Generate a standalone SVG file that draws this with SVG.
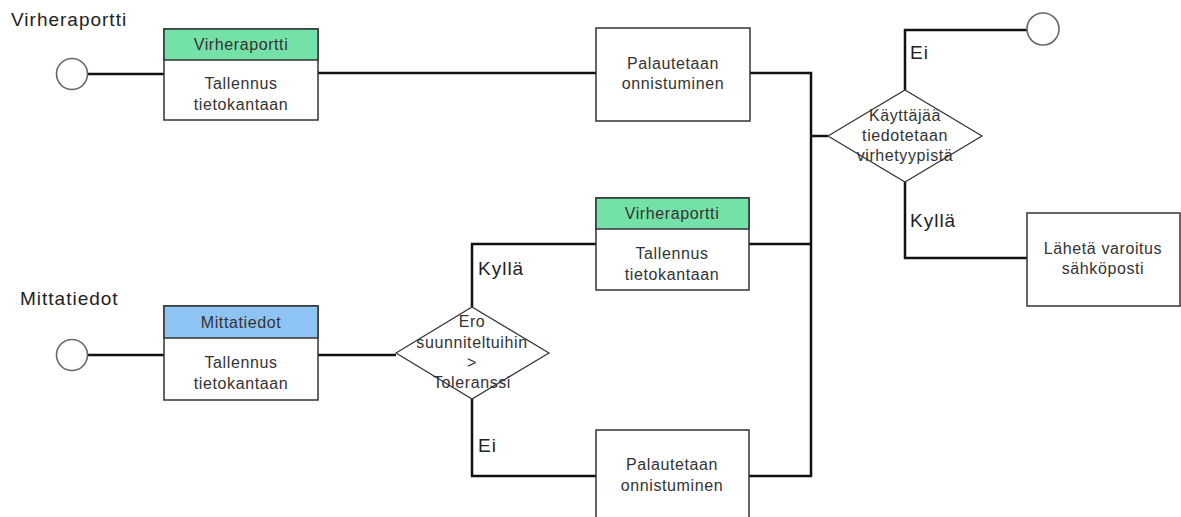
<svg xmlns="http://www.w3.org/2000/svg" width="1181" height="517" viewBox="0 0 1181 517">
<style>
  .wire { fill: none; stroke: #111; stroke-width: 2.5; stroke-linejoin: miter; }
  .box { fill: #fff; stroke: #333; stroke-width: 1.5; }
  .hdr-g { fill: #74E2A8; stroke: #333; stroke-width: 1.5; }
  .hdr-b { fill: #8EC4F4; stroke: #333; stroke-width: 1.5; }
  .dia { fill: #fff; stroke: #333; stroke-width: 1.2; }
  .term { fill: #fff; stroke: #666; stroke-width: 1.6; }
  .t { font-family: "Liberation Sans", Arial, sans-serif; font-size: 16px; letter-spacing: 0.6px; fill: #333; text-anchor: middle; }
  .lbl { font-family: "Liberation Sans", Arial, sans-serif; font-size: 19px; letter-spacing: 1px; fill: #222; }
</style>
<rect width="1181" height="517" fill="#fff"/>

<g id="connectors">
  <polyline class="wire" points="87,74 164,74"/>
  <polyline class="wire" points="318,73 596,73"/>
  <polyline class="wire" points="750,73 811,73 811,476 749,476"/>
  <polyline class="wire" points="749,244 811,244"/>
  <polyline class="wire" points="811,136 828,136"/>
  <polyline class="wire" points="905,90 905,30 1027,30"/>
  <polyline class="wire" points="905,182 905,258 1027,258"/>
  <polyline class="wire" points="87,355 164,355"/>
  <polyline class="wire" points="318,355 396,355"/>
  <polyline class="wire" points="472,307 472,244 596,244"/>
  <polyline class="wire" points="472,399 472,476 596,476"/>
</g>

<g id="label-virheraportti"><text class="lbl" x="11" y="26">Virheraportti</text></g>
<g id="label-mittatiedot"><text class="lbl" x="20" y="305">Mittatiedot</text></g>
<g id="label-ei-top"><text class="lbl" x="910" y="59">Ei</text></g>
<g id="label-kylla-right"><text class="lbl" x="910" y="227">Kyllä</text></g>
<g id="label-kylla-left"><text class="lbl" x="478" y="275">Kyllä</text></g>
<g id="label-ei-bottom"><text class="lbl" x="478" y="452">Ei</text></g>

<g id="start-virheraportti"><circle class="term" cx="72" cy="74" r="15.5"/></g>
<g id="start-mittatiedot"><circle class="term" cx="72" cy="355" r="15.5"/></g>
<g id="end-ei"><circle class="term" cx="1043" cy="29" r="16"/></g>

<g id="store-virheraportti-1">
  <rect class="box" x="164" y="29" width="154" height="91"/>
  <rect class="hdr-g" x="164" y="29" width="154" height="31"/>
  <text class="t" x="241" y="50">Virheraportti</text>
  <text class="t" x="241" y="89">Tallennus</text>
  <text class="t" x="241" y="110">tietokantaan</text>
</g>

<g id="return-success-1">
  <rect class="box" x="596" y="28" width="154" height="93"/>
  <text class="t" x="673" y="69">Palautetaan</text>
  <text class="t" x="673" y="89">onnistuminen</text>
</g>

<g id="decision-notify">
  <polygon class="dia" points="828,136 905,90 982,136 905,182"/>
  <text class="t" x="905" y="121">Käyttäjää</text>
  <text class="t" x="905" y="141">tiedotetaan</text>
  <text class="t" x="905" y="161">virhetyypistä</text>
</g>

<g id="send-email">
  <rect class="box" x="1027" y="213" width="153" height="93"/>
  <text class="t" x="1103" y="254">Lähetä varoitus</text>
  <text class="t" x="1103" y="274">sähköposti</text>
</g>

<g id="store-mittatiedot">
  <rect class="box" x="164" y="306" width="154" height="94"/>
  <rect class="hdr-b" x="164" y="306" width="154" height="32"/>
  <text class="t" x="241" y="328">Mittatiedot</text>
  <text class="t" x="241" y="368">Tallennus</text>
  <text class="t" x="241" y="389">tietokantaan</text>
</g>

<g id="decision-tolerance">
  <polygon class="dia" points="396,353 472,307 549,353 472,399"/>
  <text class="t" x="472" y="327">Ero</text>
  <text class="t" x="472" y="348">suunniteltuihin</text>
  <text class="t" x="472" y="368">&gt;</text>
  <text class="t" x="472" y="388">Toleranssi</text>
</g>

<g id="store-virheraportti-2">
  <rect class="box" x="596" y="198" width="153" height="92"/>
  <rect class="hdr-g" x="596" y="198" width="153" height="31"/>
  <text class="t" x="672" y="219">Virheraportti</text>
  <text class="t" x="672" y="259">Tallennus</text>
  <text class="t" x="672" y="280">tietokantaan</text>
</g>

<g id="return-success-2">
  <rect class="box" x="596" y="430" width="153" height="93"/>
  <text class="t" x="672" y="470">Palautetaan</text>
  <text class="t" x="672" y="491">onnistuminen</text>
</g>
</svg>
